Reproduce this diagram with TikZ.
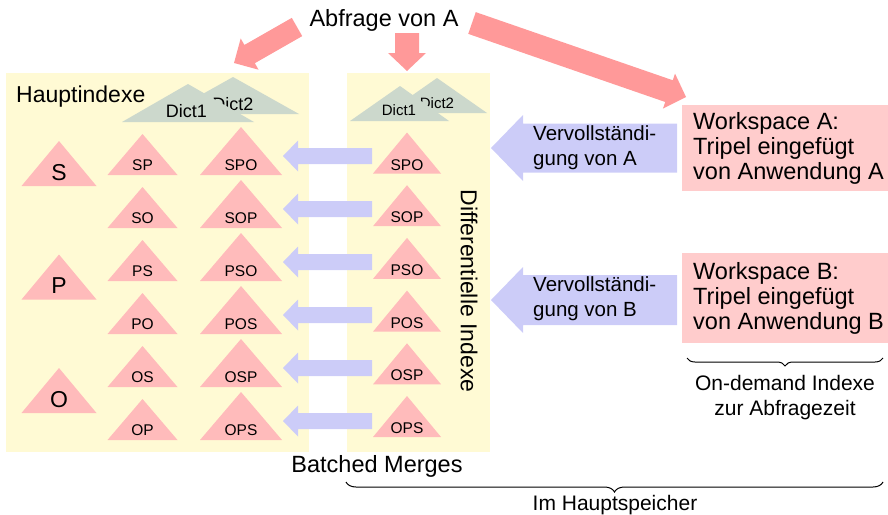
\documentclass[tikz,border=0pt]{standalone}
\usepackage{fontspec}
\setmainfont{Liberation Sans}
\usetikzlibrary{calc,decorations.pathreplacing}
\definecolor{boxyellow}{RGB}{255,250,212}
\definecolor{tripink}{RGB}{255,187,187}
\definecolor{wspink}{RGB}{255,204,204}
\definecolor{arrred}{RGB}{255,153,153}
\definecolor{arrblue}{RGB}{204,204,248}
\definecolor{dictgrey}{RGB}{204,216,204}
\newcommand\fs[1]{\fontsize{#1}{25}\selectfont}
% block arrow: #1 colour, #2 from, #3 to, #4 half shaft, #5 half head, #6 head length
\newcommand\blockarr[6]{%
  \coordinate (ba-h) at ($(#3)!#6!(#2)$);
  \fill[#1] ($(#2)!#4!90:(#3)$) -- ($(ba-h)!#4!-90:(#2)$) -- ($(ba-h)!#5!-90:(#2)$)
    -- (#3) -- ($(ba-h)!#5!90:(#2)$) -- ($(ba-h)!#4!90:(#2)$) -- ($(#2)!#4!-90:(#3)$) -- cycle;}
% triangle: cx, base, w, h, label, font size, name, label offset
\newcommand\tri[8]{%
  \fill[tripink] (#1-#3/2,#2) -- (#1,#2-#4) -- (#1+#3/2,#2) -- cycle;
  \node[lab,font=\fs{#6}] (#7) at (#1,#2-#8) {#5};}
\begin{document}
\begin{tikzpicture}[x=1pt,y=-1pt,
  ybox/.style={fill=boxyellow, inner sep=0pt, anchor=north west},
  lab/.style={anchor=base, inner sep=0pt},
  wsbox/.style={fill=wspink, inner sep=0pt, anchor=north west},
  txt/.style={inner sep=0pt},
  dicttri/.style={fill=dictgrey},
  bracestyle/.style={decorate, decoration={brace, mirror, amplitude=#1}, line width=1pt}]
\useasboundingbox (0,0) rectangle (888,514);

% yellow areas
\node[ybox, minimum width=303pt, minimum height=379pt] (haupt) at (6,73) {};
\node[ybox, minimum width=143pt, minimum height=379pt] (diff) at (347,73) {};

% dictionaries (left)
\fill[dicttri] (167,114) -- (233,77) -- (299,114) -- cycle;
\node[lab,font=\fs{18}] (ldict2) at (233,110) {Dict2};
\fill[dicttri] (122,122) -- (188,84) -- (254,122) -- cycle;
\node[lab,font=\fs{18}] (ldict1) at (186.5,117) {Dict1};
% dictionaries (right)
\fill[dicttri] (387,113) -- (437,78) -- (487,113) -- cycle;
\node[lab,font=\fs{15}] (rdict2) at (437,108) {Dict2};
\fill[dicttri] (350,121) -- (400,86) -- (449,121) -- cycle;
\node[lab,font=\fs{15}] (rdict1) at (399,115) {Dict1};

% main indexes
\tri{59}{186}{75}{45}{S}{23}{tS}{6}
\tri{59}{299.5}{75}{45}{P}{23}{tP}{6}
\tri{59}{413}{75}{45}{O}{23}{tO}{6}
\foreach \l [count=\i from 0] in {SP,SO,PS,PO,OS,OP}
  {\tri{142.5}{175+53*\i}{70}{41}{\l}{15.5}{t\l}{5}}
\foreach \l [count=\i from 0] in {SPO,SOP,PSO,POS,OSP,OPS}
  {\tri{241}{175+53*\i}{82}{48}{\l}{15.5}{h\l}{5}}
% differential indexes
\foreach \l [count=\i from 0] in {SPO,SOP,PSO,POS,OSP,OPS}
  {\tri{407}{173.5+52.7*\i}{68}{41}{\l}{15.5}{d\l}{3.5}}

% batched merge arrows
\foreach \i in {0,...,5}{
  \coordinate (ms\i) at (372,156+53*\i);
  \coordinate (me\i) at (283,156+53*\i);
  \blockarr{arrblue}{ms\i}{me\i}{8pt}{15.5pt}{15pt}
}

% query
\node[lab,font=\fs{23.5}] (abf) at (384,27) {Abfrage von A};
\coordinate (r1s) at (297,27);  \coordinate (r1e) at (234,63);
\coordinate (r2s) at (407,33);  \coordinate (r2e) at (407,71);
\coordinate (r3s) at (472,23);  \coordinate (r3e) at (686,97);
\blockarr{arrred}{r1s}{r1e}{10.5pt}{18pt}{18pt}
\blockarr{arrred}{r2s}{r2e}{12pt}{19pt}{18pt}
\blockarr{arrred}{r3s}{r3e}{11.5pt}{18.5pt}{18pt}

% completion arrows
\coordinate (vAs) at (677,148); \coordinate (vAe) at (491,148);
\coordinate (vBs) at (677,300); \coordinate (vBe) at (491,300);
\blockarr{arrblue}{vAs}{vAe}{24.5pt}{33pt}{32pt}
\blockarr{arrblue}{vBs}{vBe}{25pt}{33pt}{32pt}
\node[txt,anchor=base west,align=left,font=\fs{20.5}] (vA) at (533,165) {Vervollständi-\\gung von A};
\node[txt,anchor=base west,align=left,font=\fs{20.5}] (vB) at (533,316) {Vervollständi-\\gung von B};

% workspaces
\node[wsbox, minimum width=206pt, minimum height=86pt] (wsA) at (682,105) {};
\node[txt,anchor=west,align=left,font=\fs{23.5}] (wsAt) at ($(wsA.west)+(11,0)$) {Workspace A:\\Tripel eingefügt\\von Anwendung A};
\node[wsbox, minimum width=206pt, minimum height=90pt] (wsB) at (682,253) {};
\node[txt,anchor=west,align=left,font=\fs{23.5}] (wsBt) at ($(wsB.west)+(11,0)$) {Workspace B:\\Tripel eingefügt\\von Anwendung B};

% braces
\coordinate (bb1) at (687,358); \coordinate (bb2) at (883,358);
\draw[bracestyle=8pt] (bb1) -- (bb2);
\node[txt,anchor=base,align=center,font=\fs{21}] (ondemand) at (785,415) {On-demand Indexe\\zur Abfragezeit};
\coordinate (hb1) at (346,482); \coordinate (hb2) at (883,482);
\draw[bracestyle=10pt] (hb1) -- (hb2);
\node[lab,font=\fs{21}] (hs) at (615,510) {Im Hauptspeicher};

% labels
\node[txt,anchor=base west,font=\fs{23}] (hi) at (16,102) {Hauptindexe};
\node[txt,rotate=-90,font=\fs{23}] (di) at (469,291) {Differentielle Indexe};
\node[lab,font=\fs{23.5}] (bm) at (377,472) {Batched Merges};
\end{tikzpicture}
\end{document}
